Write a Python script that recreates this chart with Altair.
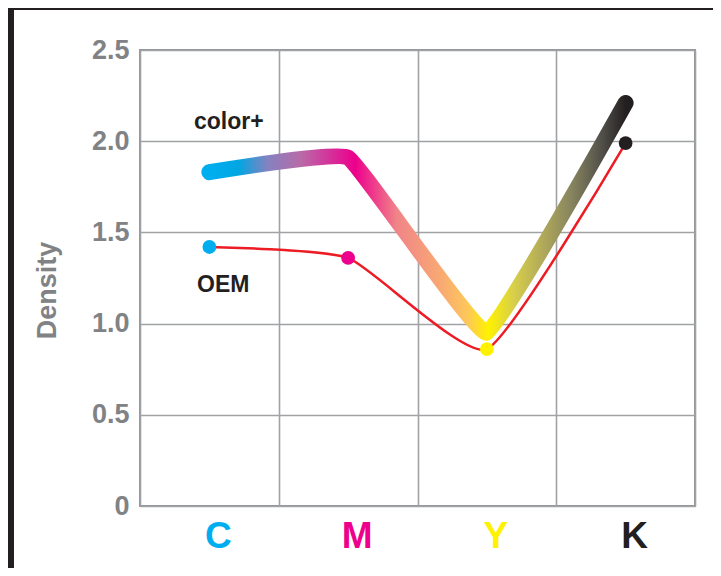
import altair as alt
import pandas as pd

# ---- data ----
categories = ["C", "M", "Y", "K"]
colorplus = [1.83, 1.91, 0.95, 2.21]
oem = [1.42, 1.36, 0.86, 1.99]
ink_colors = ["#00aeef", "#ec008c", "#fff200", "#231f20"]
y_ticks = [0, 0.5, 1.0, 1.5, 2.0, 2.5]
x_grid = [0, 1, 2, 3, 4]

ann_text = ["color+", "OEM"]
ann_x = [0.64, 0.60]
ann_y = [2.105, 1.21]

FONT = "Liberation Sans"
W, H = 555, 456

df = pd.DataFrame({
    "cat": categories,
    "pos": [i + 0.5 for i in range(len(categories))],
    "colorplus": colorplus,
    "oem": oem,
    "ink": ink_colors,
})
ann = pd.DataFrame({"text": ann_text, "x": ann_x, "y": ann_y})
one = pd.DataFrame({"a": [0]})

xscale = alt.Scale(domain=[0, 4], nice=False, zero=False)
yscale = alt.Scale(domain=[0, 2.5], nice=False)

xenc = alt.X("pos:Q", scale=xscale,
             axis=alt.Axis(values=x_grid, labels=False, ticks=False, domain=False,
                           grid=True, title=None))
yaxis = alt.Axis(values=y_ticks, ticks=False, domain=False, grid=True,
                 labelExpr="datum.value == 0 ? '0' : format(datum.value, '.1f')",
                 labelFont=FONT, labelFontSize=27, labelFontWeight="bold",
                 labelColor="#808285", labelPadding=11,
                 title="Density", titleFont=FONT, titleFontSize=27,
                 titleFontWeight="bold", titleColor="#808285",
                 titleX=-93, titleY=240, titleBaseline="middle", titleAlign="center",
                 titleAngle=270)

base = alt.Chart(df)

# dark frame bands (top and left)
frame_top = alt.Chart(one).mark_rect(color="#231f20").encode(
    x=alt.value(-140), x2=alt.value(W + 200), y=alt.value(-50), y2=alt.value(-40))
frame_left = alt.Chart(one).mark_rect(color="#231f20").encode(
    x=alt.value(-140), x2=alt.value(-126), y=alt.value(-50), y2=alt.value(H + 200))

thick = base.mark_line(
    strokeWidth=16, strokeCap="round", strokeJoin="round",
    interpolate="cardinal", tension=0.75,
    color=alt.Gradient(
        gradient="linear", x1=0, x2=1, y1=0, y2=0,
        stops=[
            alt.GradientStop(offset=0.0, color="#00aeef"),
            alt.GradientStop(offset=0.07, color="#00a6e2"),
            alt.GradientStop(offset=0.14, color="#8582c0"),
            alt.GradientStop(offset=0.22, color="#b96aa8"),
            alt.GradientStop(offset=0.35, color="#ec008c"),
            alt.GradientStop(offset=0.45, color="#f08488"),
            alt.GradientStop(offset=0.56, color="#f9ab72"),
            alt.GradientStop(offset=0.62, color="#fdc75a"),
            alt.GradientStop(offset=0.67, color="#fff200"),
            alt.GradientStop(offset=0.73, color="#d8cf4a"),
            alt.GradientStop(offset=0.80, color="#b1aa5a"),
            alt.GradientStop(offset=0.87, color="#87845f"),
            alt.GradientStop(offset=0.94, color="#53524a"),
            alt.GradientStop(offset=1.0, color="#231f20"),
        ],
    ),
).encode(x=xenc, y=alt.Y("colorplus:Q", scale=yscale, axis=yaxis))

red = base.mark_line(color="#ed1c24", strokeWidth=2.5, interpolate="cardinal",
                     tension=0.5).encode(
    x=alt.X("pos:Q", scale=xscale), y=alt.Y("oem:Q", scale=yscale))

dots = base.mark_circle(size=190, opacity=1).encode(
    x=alt.X("pos:Q", scale=xscale), y=alt.Y("oem:Q", scale=yscale),
    color=alt.Color("ink:N", scale=None))

cat_labels = base.mark_text(font=FONT, fontSize=37, fontWeight="bold",
                            baseline="middle", dx=9).encode(
    x=alt.X("pos:Q", scale=xscale), y=alt.value(H + 31),
    text="cat:N", color=alt.Color("ink:N", scale=None))

ann_labels = alt.Chart(ann).mark_text(font=FONT, fontSize=23, fontWeight="bold",
                                      color="#231f20", baseline="middle").encode(
    x=alt.X("x:Q", scale=xscale), y=alt.Y("y:Q", scale=yscale), text="text:N")

chart = alt.layer(frame_top, frame_left, thick, red, dots, cat_labels, ann_labels).properties(
    width=W, height=H,
    autosize=alt.AutoSizeParams(type="none"),
    padding={"left": 132, "top": 42, "right": 18, "bottom": 62},
    background="white",
).configure_view(stroke="#939598", strokeWidth=2).configure_axis(
    gridColor="#a0a2a5", gridWidth=1.6)

chart.save("out.html", embed_options={"renderer": "svg", "actions": False})
